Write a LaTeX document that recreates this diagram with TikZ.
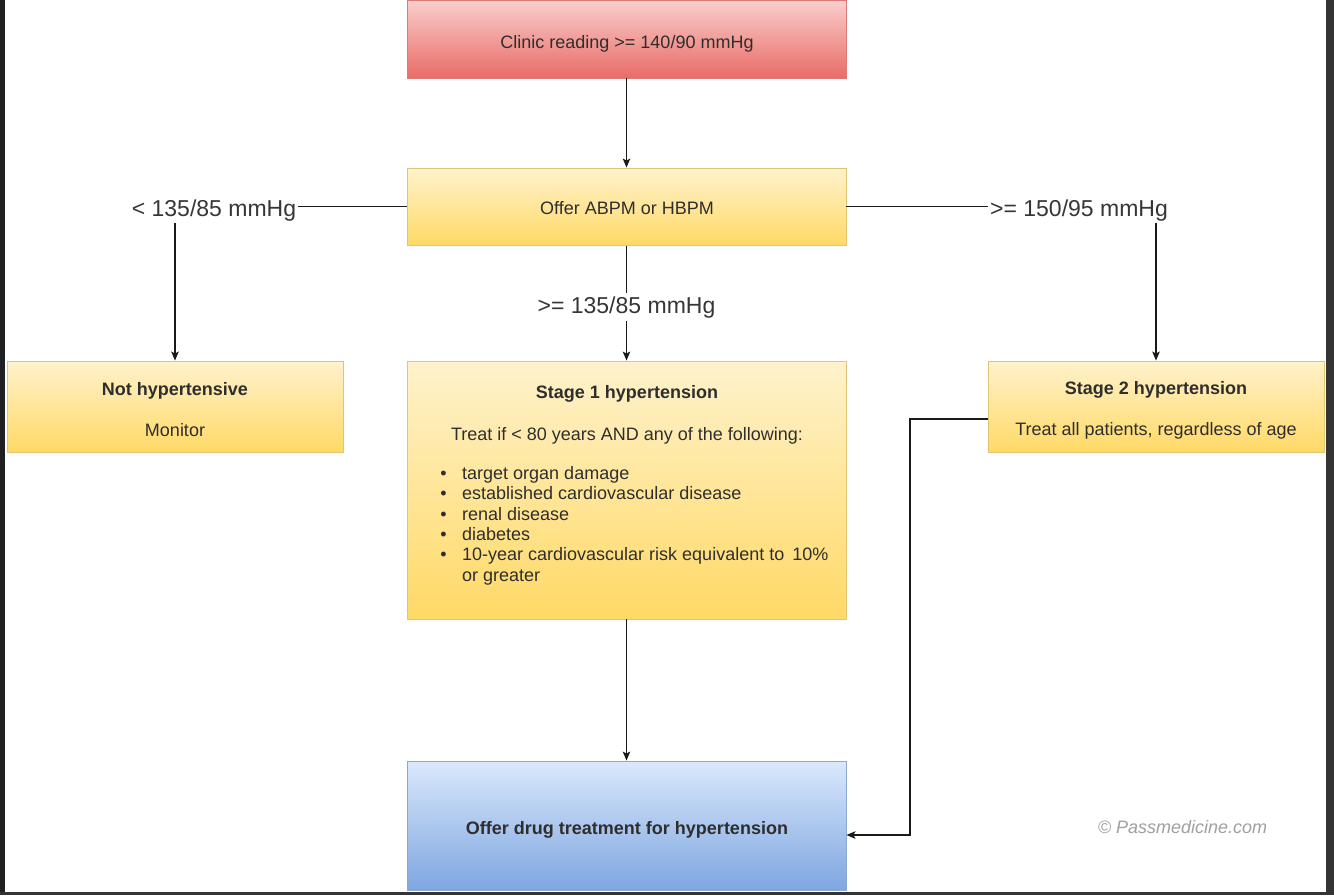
\documentclass[tikz,border=0pt]{standalone}
\usepackage{fontspec}
\setmainfont{Liberation Sans}
\usetikzlibrary{arrows.meta}
\definecolor{txt}{HTML}{2E2E2E}
\definecolor{lbl}{HTML}{363636}
\definecolor{edge}{HTML}{1A1A1A}
\definecolor{redT}{HTML}{F8CECC}
\definecolor{redB}{HTML}{EA6B66}
\definecolor{redD}{HTML}{DC7A76}
\definecolor{yelT}{HTML}{FFF2CC}
\definecolor{yelB}{HTML}{FFD966}
\definecolor{yelD}{HTML}{E2C572}
\definecolor{bluT}{HTML}{DAE8FC}
\definecolor{bluB}{HTML}{7EA6E0}
\definecolor{bluD}{HTML}{8EA9D0}
\definecolor{frameL}{HTML}{1F2022}
\definecolor{frameR}{HTML}{343434}
\definecolor{copyc}{HTML}{A0A0A0}
\tikzset{
  box/.style={rectangle, inner sep=0pt, line width=0.9pt},
  redbox/.style={box, draw=redD, top color=redT, bottom color=redB},
  yelbox/.style={box, draw=yelD, top color=yelT, bottom color=yelB},
  blubox/.style={box, draw=bluD, top color=bluT, bottom color=bluB},
  btxt/.style={text=txt, inner sep=0pt, anchor=base, font=\fontsize{18}{21.6}\selectfont},
  btitle/.style={btxt, font=\fontsize{18}{21.6}\selectfont\bfseries},
  bullet/.style={btxt, anchor=base west},
  elabel/.style={text=lbl, inner sep=2pt, anchor=base, font=\fontsize{23}{27}\selectfont},
  conn/.style={draw=edge, line width=1.2pt},
  arr/.style={conn, -{Stealth[length=9pt,width=7.5pt,inset=2pt]}}
}
\begin{document}
\begin{tikzpicture}[x=1pt,y=-1pt]
\useasboundingbox (0,0) rectangle (1334,895);
\fill[white] (0,0) rectangle (1334,895);

% boxes
\node[redbox, minimum width=439pt, minimum height=77.5pt] (clinic) at (626.5,39.25) {};
\node[yelbox, minimum width=439pt, minimum height=77.5pt] (offer) at (626.5,206.75) {};
\node[yelbox, minimum width=336pt, minimum height=91pt] (nh) at (175,406.5) {};
\node[yelbox, minimum width=439pt, minimum height=258pt] (s1) at (626.5,490) {};
\node[yelbox, minimum width=336pt, minimum height=91pt] (s2) at (1156,406.5) {};
\node[blubox, minimum width=439pt, minimum height=129pt] (drug) at (626.5,825.5) {};

% box texts
\node[btxt] (tclinic) at (627,48) {Clinic reading >= 140/90 mmHg};
\node[btxt] (toffer) at (627,214.5) {Offer ABPM or HBPM};
\node[btitle] (tnh) at (175,395) {Not hypertensive};
\node[btxt] (tmon) at (175,436) {Monitor};
\node[btitle] (ts2) at (1156,394.5) {Stage 2 hypertension};
\node[btxt] (ts2b) at (1156,435) {Treat all patients, regardless of age};
\node[btitle] (ts1) at (627,398) {Stage 1 hypertension};
\node[btxt] (ts1b) at (627,440) {Treat if < 80 years AND any of the following:};
\node[bullet] (b1) at (462,479) {\llap{\textbullet\hspace{15.5pt}}target organ damage};
\node[bullet] (b2) at (462,499.5) {\llap{\textbullet\hspace{15.5pt}}established cardiovascular disease};
\node[bullet] (b3) at (462,520) {\llap{\textbullet\hspace{15.5pt}}renal disease};
\node[bullet] (b4) at (462,540.5) {\llap{\textbullet\hspace{15.5pt}}diabetes};
\node[bullet] (b5) at (462,560.5) {\llap{\textbullet\hspace{15.5pt}}10-year cardiovascular risk equivalent to\hspace{3pt} 10\%};
\node[bullet] (b6) at (462,581) {or greater};
\node[btitle] (tdrug) at (627,834) {Offer drug treatment for hypertension};
\node[btxt, text=copyc, font=\fontsize{18}{21.6}\selectfont\itshape] (copy) at (1182.5,833) {© Passmedicine.com};

% edge labels
\node[elabel] (lblL) at (214,216) {< 135/85 mmHg};
\node[elabel] (lblR) at (1079,216) {>= 150/95 mmHg};
\node[elabel, inner sep=3pt] (lblM) at (626.5,313) {>= 135/85 mmHg};

% connectors
\draw[arr] (clinic.south) -- (offer.north);
\draw[conn] (offer.west) -- (offer.west -| lblL.east);
\draw[arr] (nh.north |- lblL.south) -- (nh.north);
\draw[conn] (offer.east) -- (offer.east -| lblR.west);
\draw[arr] (s2.north |- lblR.south) -- (s2.north);
\draw[conn] (offer.south) -- (offer.south |- lblM.north);
\draw[arr] (s1.north |- lblM.south) -- (s1.north);
\draw[arr] (s1.south) -- (drug.north);
\draw[arr] ([yshift=-12.5pt]s2.west) -- ++(-77.5,0) |- ([yshift=-9.5pt]drug.east);

% dark frame
\fill[frameL] (0,0) rectangle (5,895);
\fill[frameR] (1325.5,0) rectangle (1334,895);
\fill[frameR] (0,891.5) rectangle (1334,895);
\end{tikzpicture}
\end{document}
